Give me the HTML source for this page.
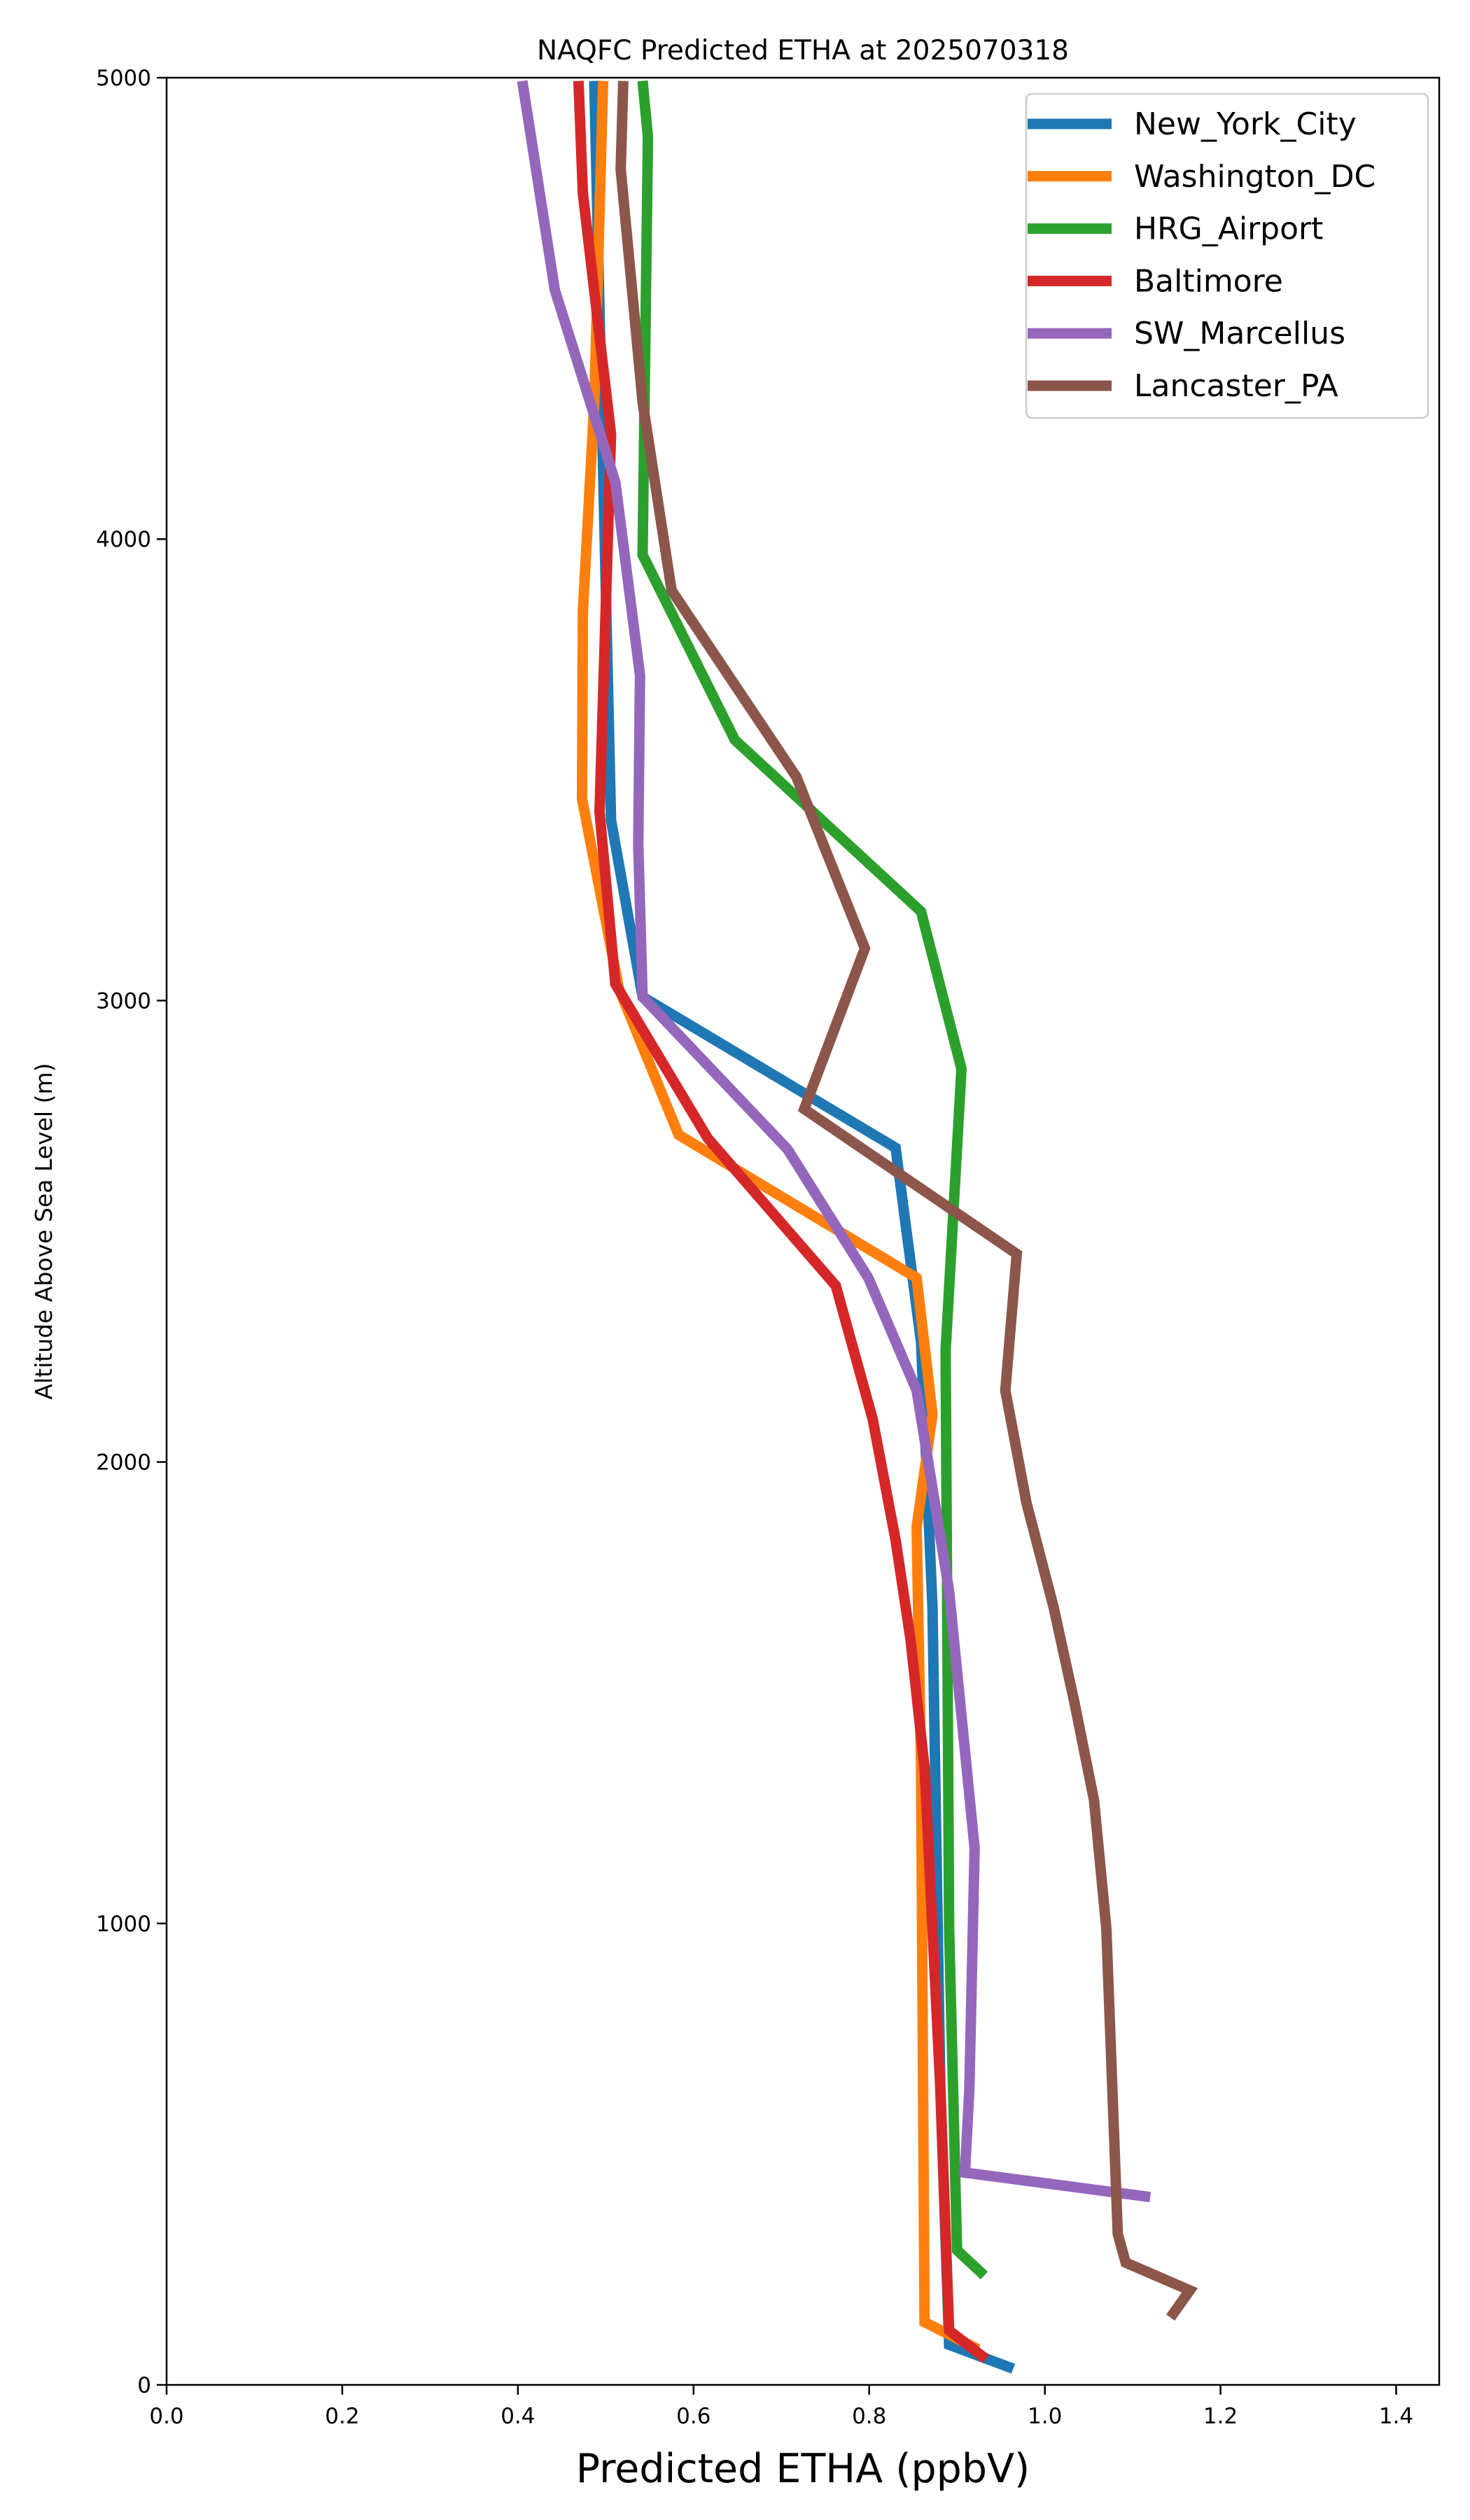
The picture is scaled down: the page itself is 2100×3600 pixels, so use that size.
<!DOCTYPE html>
<html><head><meta charset="utf-8"><style>
html,body{margin:0;padding:0;background:#fff}
svg{display:block;font-family:"DejaVu Sans","Liberation Sans",sans-serif}
</style></head><body>
<svg id="chart" width="2100" height="3600" viewBox="0 0 2100 3600" xmlns="http://www.w3.org/2000/svg">
<rect x="0" y="0" width="2100" height="3600" fill="#fff"/>
<g id="plot"></g>
</svg>
<script>
const seriesNames = ["New_York_City","Washington_DC","HRG_Airport","Baltimore","SW_Marcellus","Lancaster_PA"];
const seriesColors = ["#1f77b4","#ff7f0e","#2ca02c","#d62728","#9467bd","#8c564b"];
const nycVal = [0.964,0.891,0.881,0.872,0.859,0.830,0.542,0.506,0.487];
const nycAlt = [35,87,641,1685,2260,2681,3008,3391,4993];
const dcVal = [0.924,0.863,0.859,0.854,0.872,0.854,0.583,0.515,0.473,0.474,0.487,0.497];
const dcAlt = [77,136,1337,1859,2103,2399,2709,3026,3437,3844,4297,4993];
const hrgVal = [0.931,0.900,0.891,0.887,0.905,0.859,0.647,0.542,0.548,0.542];
const hrgAlt = [237,292,989,2242,2852,3193,3565,3966,4871,4993];
const balVal = [0.933,0.891,0.881,0.863,0.847,0.830,0.804,0.762,0.616,0.511,0.493,0.506,0.474,0.469];
const balAlt = [56,118,641,1337,1616,1831,2093,2382,2702,3036,3409,4227,4749,4993];
const swmVal = [1.120,0.909,0.914,0.920,0.891,0.854,0.799,0.707,0.542,0.537,0.539,0.511,0.442,0.405];
const swmAlt = [407,460,641,1163,1720,2155,2399,2678,3008,3339,3705,4123,4540,4993];
const lanVal = [1.143,1.165,1.092,1.083,1.070,1.056,1.034,1.010,0.979,0.955,0.968,0.726,0.795,0.717,0.575,0.542,0.517,0.520];
const lanAlt = [146,205,265,327,989,1267,1476,1685,1912,2155,2451,2765,3113,3485,3889,4297,4802,4993];
const xTicks = [0.0,0.2,0.4,0.6,0.8,1.0,1.2,1.4];
const xTickLabels = ["0.0","0.2","0.4","0.6","0.8","1.0","1.2","1.4"];
const yTicks = [0,1000,2000,3000,4000,5000];
const yTickLabels = ["0","1000","2000","3000","4000","5000"];

const NS="http://www.w3.org/2000/svg";
const L=238,R=2056,T=111,B=3407,XMAX=1.449,YMAX=5000;
const xs=v=>L+v/XMAX*(R-L);
const ys=a=>B-a/YMAX*(B-T);
const g=document.getElementById('plot');
function mk(tag,attrs,parent){const e=document.createElementNS(NS,tag);for(const k in attrs)e.setAttribute(k,attrs[k]);(parent||g).appendChild(e);return e;}

const allVals=[nycVal,dcVal,hrgVal,balVal,swmVal,lanVal];
const allAlts=[nycAlt,dcAlt,hrgAlt,balAlt,swmAlt,lanAlt];
const clip=mk('clipPath',{id:'pc'});mk('rect',{x:L,y:T,width:R-L,height:B-T},clip);
allVals.forEach((vals,i)=>{
  const pts=vals.map((v,j)=>xs(v).toFixed(1)+','+ys(allAlts[i][j]).toFixed(1)).join(' ');
  const p=mk('polyline',{points:pts,fill:'none',stroke:seriesColors[i],'stroke-width':15,'stroke-linejoin':'miter','clip-path':'url(#pc)'});
  
  
});

const frame=mk('rect',{x:L,y:T,width:R-L,height:B-T,fill:'none',stroke:'#000','stroke-width':2.5});



xTicks.forEach((v,i)=>{
  const x=xs(v);
  mk('line',{x1:x,y1:B,x2:x,y2:B+14,stroke:'#000','stroke-width':2.5});
  const t=mk('text',{x:x,y:B+55,'font-size':31,'text-anchor':'middle',fill:'#000'});
  t.textContent=xTickLabels[i];
  
  
});
yTicks.forEach((a,i)=>{
  const y=ys(a);
  mk('line',{x1:L-14,y1:y,x2:L,y2:y,stroke:'#000','stroke-width':2.5});
  const t=mk('text',{x:L-22,y:y+11,'font-size':31,'text-anchor':'end',fill:'#000'});
  t.textContent=yTickLabels[i];
  
  
});

const title=mk('text',{x:(L+R)/2,y:85,'font-size':39,'text-anchor':'middle',fill:'#000'});
title.textContent='NAQFC Predicted ETHA at 2025070318';



const xl=mk('text',{x:(L+R)/2,y:3546,'font-size':57,'text-anchor':'middle',fill:'#000'});
xl.textContent='Predicted ETHA (ppbV)';



const yl=mk('text',{x:0,y:0,'font-size':33,'text-anchor':'middle',fill:'#000',transform:'translate(74,'+((T+B)/2)+') rotate(-90)'});
yl.textContent='Altitude Above Sea Level (m)';



const lg=mk('g',{});


mk('rect',{x:1466,y:134,width:574,height:463,rx:8,fill:'#fff',stroke:'#ccc','stroke-width':2.5},lg);
seriesNames.forEach((n,i)=>{
  const y=177+i*74.8;
  const e=mk('g',{},lg);
  
  
  mk('line',{x1:1468,y1:y,x2:1588,y2:y,stroke:seriesColors[i],'stroke-width':15},e);
  const t=mk('text',{x:1620,y:y+15,'font-size':44,fill:'#000'},e);
  t.textContent=n;
});
</script>
</body></html>
